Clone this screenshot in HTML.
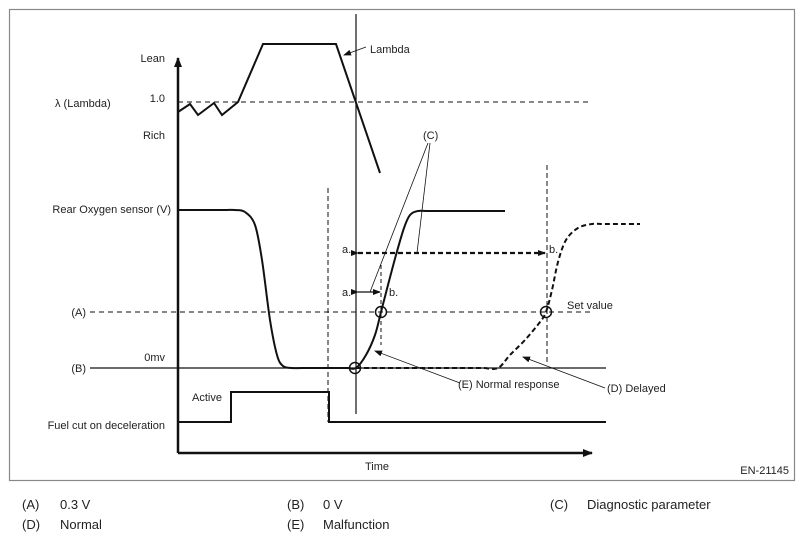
<!DOCTYPE html>
<html><head><meta charset="utf-8"><style>
html,body{margin:0;padding:0;background:#fff}
svg{display:block;font-family:"Liberation Sans",sans-serif}
</style></head><body>
<svg id="c" width="804" height="541" viewBox="0 0 804 541">
<defs>
<marker id="ah" markerWidth="10" markerHeight="8" refX="9" refY="4" orient="auto" markerUnits="userSpaceOnUse"><path d="M0,0 L10,4 L0,8 z" fill="#111"/></marker>
<marker id="ahs" markerWidth="8" markerHeight="6" refX="7" refY="3" orient="auto" markerUnits="userSpaceOnUse"><path d="M0,0 L8,3 L0,6 z" fill="#111"/></marker>
</defs>
<rect x="9.5" y="9.5" width="785" height="471" fill="none" stroke="#888" stroke-width="1.2"/>
<g id="static" font-size="11" fill="#222">
<text x="165" y="62" text-anchor="end">Lean</text>
<text x="55" y="107">λ  (Lambda)</text>
<text x="165" y="102" text-anchor="end">1.0</text>
<text x="165" y="139" text-anchor="end">Rich</text>
<text x="171" y="213" text-anchor="end">Rear Oxygen sensor (V)</text>
<text x="86" y="316" text-anchor="end">(A)</text>
<text x="86" y="372" text-anchor="end">(B)</text>
<text x="165" y="361" text-anchor="end">0mv</text>
<text x="165" y="429" text-anchor="end">Fuel cut on deceleration</text>
<text x="192" y="401">Active</text>
<text x="365" y="470">Time</text>
<text x="789" y="474" text-anchor="end">EN-21145</text>
<text x="370" y="53">Lambda</text>
<text x="423" y="139">(C)</text>
<text x="342" y="253">a.</text>
<text x="549" y="253">b.</text>
<text x="342" y="296">a.</text>
<text x="389" y="296">b.</text>
<text x="567" y="309">Set value</text>
<text x="458" y="388">(E) Normal response</text>
<text x="607" y="392">(D) Delayed</text>
</g>
<g font-size="13" fill="#222">
<text x="22" y="509">(A)</text><text x="60" y="509">0.3 V</text>
<text x="287" y="509">(B)</text><text x="323" y="509">0 V</text>
<text x="550" y="509">(C)</text><text x="587" y="509">Diagnostic parameter</text>
<text x="22" y="529">(D)</text><text x="60" y="529">Normal</text>
<text x="287" y="529">(E)</text><text x="323" y="529">Malfunction</text>
</g>
<g id="marks"></g>
</svg>
<script>
// time values (px offset from axis) and signal levels
const lambdaT = [0, 12, 20, 36, 44, 60, 85, 158, 202];
const lambdaV = [-10, -2, -13, -1, -13, 0, 58, 58, -71];
const o2NormalT = [0, 30, 47, 57, 67, 77, 84, 92, 99, 105, 114, 124, 140, 160, 170, 178, 188, 197, 203, 210, 218, 226, 232, 240, 250, 270, 300, 327];
const o2NormalV = [158, 158, 158, 158, 156, 143, 108, 48, 13, 2, 0, 0, 0, 0, 0, 0, 13, 33, 56, 83, 113, 140, 153, 157, 157, 157, 157, 157];
const o2DelayT = [178, 220, 260, 290, 305, 320, 332, 347, 362, 368, 374, 380, 388, 400, 414, 426, 445, 462];
const o2DelayV = [0, 0, 0, 0, 0, 0, 13, 28, 46, 56, 78, 106, 128, 140, 144, 144, 144, 144];
const fuelT = [0, 53, 53, 151, 151, 428];
const fuelV = [0, 0, 1, 1, 0, 0];
const NS = 'http://www.w3.org/2000/svg';
const g = document.getElementById('marks');
const x = t => 178 + t;
const yL = v => 102 - v;
const yO = v => 368 - v;
const yF = v => 422 - v * 30;
function el(tag, attrs){const e=document.createElementNS(NS,tag);for(const k in attrs)e.setAttribute(k,attrs[k]);g.appendChild(e);return e;}
function poly(ts, vs, yf){let d='M'+x(ts[0])+','+yf(vs[0]);for(let i=1;i<ts.length;i++){d+=' L'+x(ts[i])+','+yf(vs[i]);}return d;}
function smooth(ts, vs, yf){
  const p=ts.map((t,i)=>[x(t),yf(vs[i])]);
  let d='M'+p[0][0]+','+p[0][1];
  for(let i=0;i<p.length-1;i++){
    const p0=p[Math.max(0,i-1)],p1=p[i],p2=p[i+1],p3=p[Math.min(p.length-1,i+2)];
    const c1=[p1[0]+(p2[0]-p0[0])/6,p1[1]+(p2[1]-p0[1])/6];
    const c2=[p2[0]-(p3[0]-p1[0])/6,p2[1]-(p3[1]-p1[1])/6];
    d+=' C'+c1[0]+','+c1[1]+' '+c2[0]+','+c2[1]+' '+p2[0]+','+p2[1];
  }
  return d;
}
let e;
e=el('line',{x1:178,y1:102,x2:592,y2:102,stroke:'#111','stroke-width':1,'stroke-dasharray':'5,4'});


e=el('line',{x1:90,y1:312,x2:590,y2:312,stroke:'#111','stroke-width':1,'stroke-dasharray':'5,4'});


e=el('line',{x1:90,y1:368,x2:606,y2:368,stroke:'#111','stroke-width':1.2});


e=el('line',{x1:356,y1:14,x2:356,y2:414,stroke:'#111','stroke-width':1.2});


e=el('line',{x1:328,y1:188,x2:328,y2:422,stroke:'#111','stroke-width':1,'stroke-dasharray':'5,3'});


e=el('line',{x1:381,y1:265,x2:381,y2:345,stroke:'#111','stroke-width':1,'stroke-dasharray':'4,3'});


e=el('line',{x1:547,y1:165,x2:547,y2:365,stroke:'#111','stroke-width':1,'stroke-dasharray':'5,3'});


e=el('line',{x1:178,y1:453,x2:178,y2:58,stroke:'#111','stroke-width':2.5,'marker-end':'url(#ah)'});


e=el('line',{x1:178,y1:453,x2:592,y2:453,stroke:'#111','stroke-width':2.5,'marker-end':'url(#ah)'});


e=el('path',{d:poly(lambdaT,lambdaV,yL),fill:'none',stroke:'#111','stroke-width':2});


e=el('path',{d:smooth(o2NormalT,o2NormalV,yO),fill:'none',stroke:'#111','stroke-width':2,'stroke-linejoin':'round'});


e=el('path',{d:smooth(o2DelayT,o2DelayV,yO),fill:'none',stroke:'#111','stroke-width':2,'stroke-dasharray':'5,3'});


e=el('path',{d:poly(fuelT,fuelV,yF),fill:'none',stroke:'#111','stroke-width':2});


e=el('line',{x1:358,y1:253,x2:545,y2:253,stroke:'#111','stroke-width':2.2,'stroke-dasharray':'5,3','marker-start':'url(#ahs)','marker-end':'url(#ahs)'});


e=el('line',{x1:358,y1:292,x2:380,y2:292,stroke:'#111','stroke-width':1.2,'marker-start':'url(#ahs)','marker-end':'url(#ahs)'});


const leaders=[[366,47,344,55,'lambda-leader',1],[428,143,370,292,'c-leader-1',0],[430,143,417,253,'c-leader-2',0],[460,383,375,351,'normal-response-leader',1],[605,388,523,357,'delayed-leader',1]];
leaders.forEach(l=>{const a={x1:l[0],y1:l[1],x2:l[2],y2:l[3],stroke:'#111','stroke-width':0.8};if(l[5])a['marker-end']='url(#ahs)';e=el('line',a);

});
[[381,312],[546,312],[355,368]].forEach(c=>{e=el('circle',{cx:c[0],cy:c[1],r:5.5,fill:'none',stroke:'#111','stroke-width':1.5});

});
</script>
</body></html>
